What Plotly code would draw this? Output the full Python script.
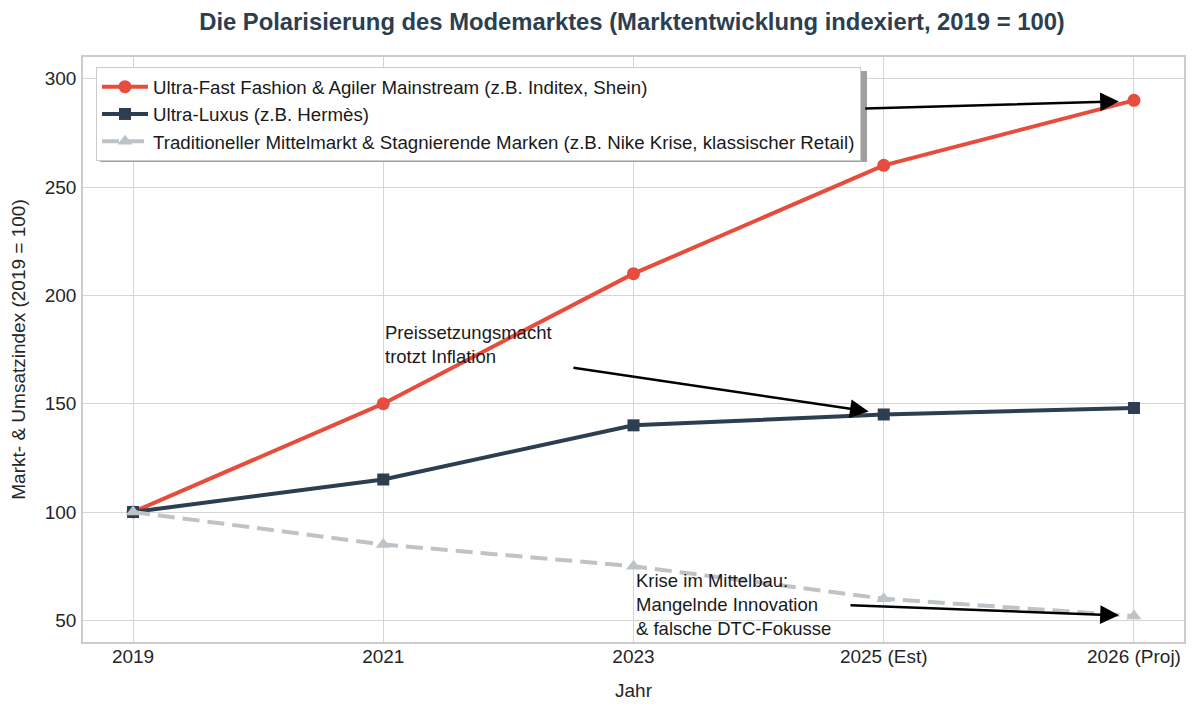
import plotly.graph_objects as go

years = ["2019", "2021", "2023", "2025 (Est)", "2026 (Proj)"]
fast_fashion = [100, 150, 210, 260, 290]
ultra_luxus = [100, 115, 140, 145, 148]
mittelmarkt = [100, 85, 75, 60, 52]

name_ff = "Ultra-Fast Fashion & Agiler Mainstream (z.B. Inditex, Shein)"
name_ul = "Ultra-Luxus (z.B. Hermès)"
name_mm = "Traditioneller Mittelmarkt & Stagnierende Marken (z.B. Nike Krise, klassischer Retail)"

RED = "#e74c3c"
NAVY = "#2c3e50"
GRAY = "#bdc3c7"
FONT = "Liberation Sans"

fig = go.Figure()
fig.add_trace(go.Scatter(x=years, y=fast_fashion, name=name_ff, mode="lines+markers",
                         line=dict(color=RED, width=4),
                         marker=dict(symbol="circle", size=13, color=RED)))
fig.add_trace(go.Scatter(x=years, y=ultra_luxus, name=name_ul, mode="lines+markers",
                         line=dict(color=NAVY, width=4),
                         marker=dict(symbol="square", size=12, color=NAVY)))
fig.add_trace(go.Scatter(x=years, y=mittelmarkt, name=name_mm, mode="lines+markers",
                         line=dict(color=GRAY, width=4, dash="17px,8px"),
                         marker=dict(symbol="triangle-up", size=13, color=GRAY)))

# arrows (tail -> head), in category serial-number / data coordinates
arrows = [
    dict(tail=(2.92, 286.2), head=(3.94, 289.5)),
    dict(tail=(1.754, 166.7), head=(2.94, 146.4)),
    dict(tail=(2.861, 57.0), head=(3.94, 52.3)),
]
for a in arrows:
    fig.add_annotation(x=a["head"][0], y=a["head"][1], ax=a["tail"][0], ay=a["tail"][1],
                       xref="x", yref="y", axref="x", ayref="y", text="",
                       showarrow=True, arrowhead=2, arrowsize=1.5, arrowwidth=2.5,
                       arrowcolor="black")

texts = [
    dict(x=1.0, y=166, text="Preissetzungsmacht<br>trotzt Inflation"),
    dict(x=2.0, y=40.5, text="Krise im Mittelbau:<br>Mangelnde Innovation<br>&amp; falsche DTC-Fokusse"),
]
for t in texts:
    fig.add_annotation(x=t["x"], y=t["y"], xref="x", yref="y", text=t["text"],
                       showarrow=False, xanchor="left", yanchor="bottom", align="left",
                       font=dict(family=FONT, size=18.5, color="#1a1a1a"))

# legend shadow
fig.add_shape(type="rect", xref="paper", yref="paper",
              x0=(100 - 83) / 1101, x1=(867 - 83) / 1101,
              y0=(642 - 162) / 585, y1=(642 - 71) / 585,
              fillcolor="#a0a0a0", line=dict(width=0), layer="above")

fig.update_layout(
    width=1200, height=708,
    margin=dict(l=75, r=24, t=49, b=74),
    paper_bgcolor="white", plot_bgcolor="white",
    font=dict(family=FONT, size=19, color="#262626"),
    title=dict(text="<b>Die Polarisierung des Modemarktes (Marktentwicklung indexiert, 2019 = 100)</b>",
               x=0.52, xanchor="center", y=1 - 14 / 708, yanchor="middle", yref="container",
               font=dict(family=FONT, size=23.8, color="#2c3e50")),
    legend=dict(x=(96 - 83) / 1101, y=(642 - 67) / 585, xanchor="left", yanchor="top",
                bgcolor="white", bordercolor="#cccccc", borderwidth=1, itemwidth=46,
                font=dict(family=FONT, size=18.7, color="#1a1a1a")),
    showlegend=True,
)
fig.update_xaxes(type="category", range=[-0.2, 4.2], showgrid=True, gridcolor="#d5d5d5", gridwidth=1,
                 showline=True, linecolor="#cccccc", linewidth=1.5, mirror=True,
                 ticks="", ticklabelstandoff=-4, zeroline=False, automargin=False,
                 title=dict(text="Jahr", standoff=18, font=dict(size=19)))
fig.update_yaxes(range=[40, 310], tickvals=[50, 100, 150, 200, 250, 300], showgrid=True,
                 gridcolor="#d5d5d5", gridwidth=1, showline=True, linecolor="#cccccc", linewidth=1.5,
                 mirror=True, ticks="", ticklabelstandoff=1, zeroline=False, automargin=False,
                 title=dict(text="Markt- & Umsatzindex (2019 = 100)", standoff=20, font=dict(size=19)))

fig.write_html("out.html")
